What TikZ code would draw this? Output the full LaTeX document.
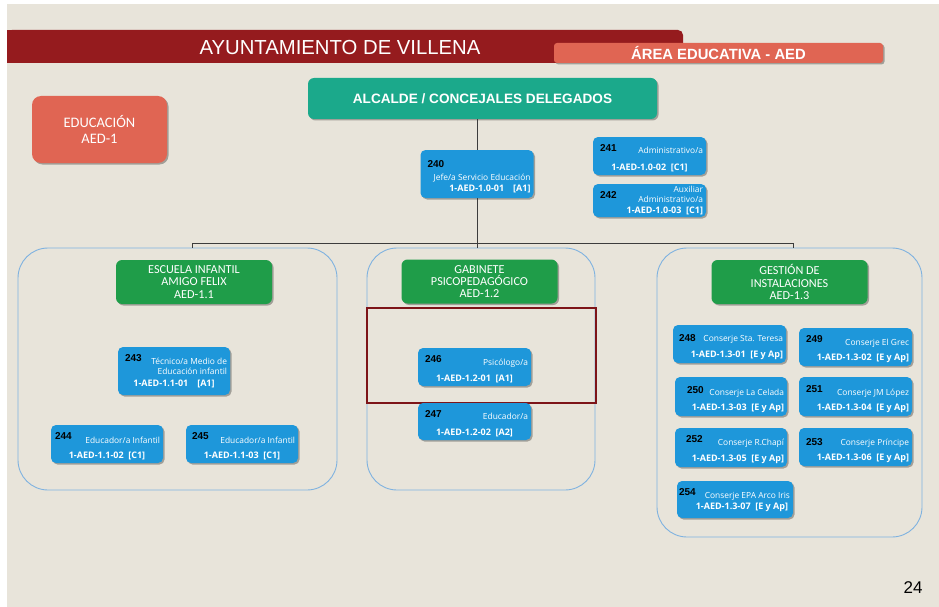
\documentclass[tikz,border=0pt]{standalone}
\usepackage{fontspec}
\setmainfont{Open Sans}
\newfontfamily\arialf{Liberation Sans}
\newfontfamily\calf{Carlito}
\usetikzlibrary{shadows}

\definecolor{paper}{HTML}{E8E4DA}
\definecolor{barred}{HTML}{951B1E}
\definecolor{salmon}{HTML}{E06553}
\definecolor{bossteal}{HTML}{1BA98B}
\definecolor{secgreen}{HTML}{1F9D49}
\definecolor{jobblue}{HTML}{1E97DA}
\definecolor{grpblue}{HTML}{7FB2E0}
\definecolor{framered}{HTML}{7D1418}
\definecolor{linegray}{HTML}{3C3C3C}

\tikzset{
  soft/.style={drop shadow={shadow xshift=1.5pt, shadow yshift=-1.5pt, opacity=0.3, fill=black}},
  banner/.style={fill=barred, rounded corners=5pt},
  tag/.style={fill=salmon, rounded corners=3pt, soft, text=white, font=\arialf\bfseries\fontsize{14.8}{14.8}\selectfont},
  unit/.style={fill=salmon, rounded corners=9pt, soft, text=white, align=center, font=\calf\fontsize{14.5}{15.5}\selectfont},
  boss/.style={fill=bossteal, rounded corners=6pt, soft, text=white, font=\arialf\bfseries\fontsize{13.6}{13.6}\selectfont},
  section/.style={fill=secgreen, rounded corners=6pt, soft, text=white, align=center, minimum width=156pt, minimum height=44pt, font=\calf\fontsize{12.2}{12.3}\selectfont},
  group/.style={draw=grpblue, line width=0.9pt, rounded corners=30pt},
  focus/.style={draw=framered, line width=2.7pt},
  job/.style={fill=jobblue, rounded corners=5pt, soft, minimum width=113pt},
  num/.style={anchor=north west, inner sep=0pt, xshift=7pt, yshift=-8pt, text=black, font=\arialf\bfseries\fontsize{10}{10}\selectfont},
  desc/.style={anchor=north east, inner sep=0pt, xshift=-3pt, yshift=-10.5pt, align=right, text=white, font=\fontsize{8.4}{10}\selectfont},
  code/.style={anchor=south, inner sep=0pt, yshift=3pt, text=white, font=\bfseries\fontsize{9}{9}\selectfont},
  codeR/.style={code, anchor=south east, xshift=-3pt},
  link/.style={draw=linegray, line width=0.7pt}
}

\begin{document}
\begin{tikzpicture}[x=1pt,y=-1pt]
\useasboundingbox (0,0) rectangle (939,607);
\fill[white] (0,0) rectangle (939,607);
\fill[paper] (7,4) rectangle (939,607);

% cabecera
\draw (345,46.5) node (ayto) [banner, minimum width=676pt, minimum height=33pt] {};
\fill[barred] (7,30) rectangle (30,63);
\draw (340,48) node (aytotext) [text=white, font=\arialf\fontsize{20.3}{20.3}\selectfont] {AYUNTAMIENTO DE VILLENA};
\draw (718.5,53) node (area) [tag, minimum width=329pt, minimum height=20pt] {ÁREA EDUCATIVA - AED};

\draw (99.5,129.5) node (edu) [unit, minimum width=135pt, minimum height=67pt] {EDUCACIÓN\\AED-1};
\draw (482.5,98.5) node (alc) [boss, minimum width=349pt, minimum height=41pt] {ALCALDE / CONCEJALES DELEGADOS};

% jefatura
\draw (477,174) node (j240) [job, minimum height=48pt] [label={[num, yshift=-3pt]north west:240}] [label={[desc, yshift=-14pt]north east:Jefe/a Servicio Educación}] [label={[codeR, yshift=1.7pt]south east:{1-AED-1.0-01\quad[A1]}}] {};
\draw (649.5,156) node (j241) [job, minimum height=38pt] [label={[num]north west:241}] [label={[desc]north east:Administrativo/a}] [label={[code]south:{1-AED-1.0-02\ \ [C1]}}] {};
\draw (649.5,200.5) node (j242) [job, minimum height=33pt] [label={[num]north west:242}] [label={[desc, yshift=8pt]north east:Auxiliar\\Administrativo/a}] [label={[codeR, yshift=-1pt]south east:{1-AED-1.0-03\ \ [C1]}}] {};

% grupos
\draw (177.5,369) node (gleft) [group, minimum width=319pt, minimum height=242pt] {};
\draw (481,369) node (gmid) [group, minimum width=228pt, minimum height=242pt] {};
\draw (789.5,392.5) node (gright) [group, minimum width=265pt, minimum height=289pt] {};

\draw (194,282) node (s11) [section] {ESCUELA INFANTIL\\AMIGO FELIX\\AED-1.1};
\draw (479.5,281.5) node (s12) [section] {GABINETE\\PSICOPEDAGÓGICO\\AED-1.2};
\draw (789.5,282) node (s13) [section] {GESTIÓN DE\\INSTALACIONES\\AED-1.3};

\draw (481.5,355.5) node (mark) [focus, minimum width=229pt, minimum height=95pt] {};

% escuela infantil
\draw (174,371) node (j243) [job, minimum width=112pt, minimum height=48pt] [label={[num]north west:243}] [label={[desc, yshift=-1pt]north east:Técnico/a Medio de\\Educación infantil}] [label={[code, yshift=3.7pt]south:{1-AED-1.1-01\quad[A1]}}] {};
\draw (107,444) node (j244) [job, minimum width=112pt, minimum height=38pt] [label={[num, xshift=-3pt]north west:244}] [label={[desc, yshift=-2pt]north east:Educador/a Infantil}] [label={[code]south:{1-AED-1.1-02\ \ [C1]}}] {};
\draw (242,444) node (j245) [job, minimum width=112pt, minimum height=38pt] [label={[num, xshift=-1pt]north west:245}] [label={[desc, yshift=-2pt]north east:Educador/a Infantil}] [label={[code]south:{1-AED-1.1-03\ \ [C1]}}] {};

% gabinete
\draw (474.5,367) node (j246) [job, minimum height=38pt] [label={[num]north west:246}] [label={[desc, yshift=-1pt]north east:Psicólogo/a}] [label={[code]south:{1-AED-1.2-01\ \ [A1]}}] {};
\draw (474.5,421.5) node (j247) [job, minimum height=37pt] [label={[num]north west:247}] [label={[desc]north east:Educador/a}] [label={[code]south:{1-AED-1.2-02\ \ [A2]}}] {};

% instalaciones
\draw (729.5,344) node (j248) [job, minimum height=38pt] [label={[num, xshift=-1pt, yshift=-2pt]north west:248}] [label={[desc]north east:Conserje Sta. Teresa}] [label={[codeR]south east:{1-AED-1.3-01\ \ [E y Ap]}}] {};
\draw (855.5,347) node (j249) [job, minimum height=38pt] [label={[num]north west:249}] [label={[desc, yshift=-1pt]north east:Conserje El Grec}] [label={[codeR]south east:{1-AED-1.3-02\ \ [E y Ap]}}] {};
\draw (731,396.5) node (j250) [job, minimum width=112pt, minimum height=39pt] [label={[num, xshift=5pt, yshift=-2pt]north west:250}] [label={[desc, yshift=-2pt]north east:Conserje La Celada}] [label={[codeR]south east:{1-AED-1.3-03\ \ [E y Ap]}}] {};
\draw (855.5,396.5) node (j251) [job, minimum height=39pt] [label={[num, yshift=-1pt]north west:251}] [label={[desc, yshift=-2pt]north east:Conserje JM López}] [label={[codeR]south east:{1-AED-1.3-04\ \ [E y Ap]}}] {};
\draw (731,447.5) node (j252) [job, minimum width=112pt, minimum height=39pt] [label={[num, xshift=4pt]north west:252}] [label={[desc, yshift=-1pt]north east:Conserje R.Chapí}] [label={[codeR]south east:{1-AED-1.3-05\ \ [E y Ap]}}] {};
\draw (855.5,447) node (j253) [job, minimum height=38pt] [label={[num, yshift=-3pt]north west:253}] [label={[desc, yshift=-1pt]north east:Conserje Príncipe}] [label={[codeR]south east:{1-AED-1.3-06\ \ [E y Ap]}}] {};
\draw (735,499.5) node (j254) [job, minimum width=116pt, minimum height=37pt] [label={[num, xshift=-5pt]north west:254}] [label={[desc, yshift=-1pt]north east:Conserje EPA Arco Iris}] [label={[codeR, xshift=-2pt, yshift=3pt]south east:{1-AED-1.3-07\ \ [E y Ap]}}] {};

% conectores
\coordinate (busL) at (192,243);
\coordinate (busR) at (793,243);
\draw[link] (alc.south -| j240) -- (j240.north);
\draw[link] (j240.south) -- (gmid.north -| j240);
\draw[link] (gleft.north -| busL) -- (busL) -- (busR) -- (gright.north -| busR);

\draw (913,588) node (page) [font=\arialf\fontsize{17}{17}\selectfont] {24};
\end{tikzpicture}
\end{document}
